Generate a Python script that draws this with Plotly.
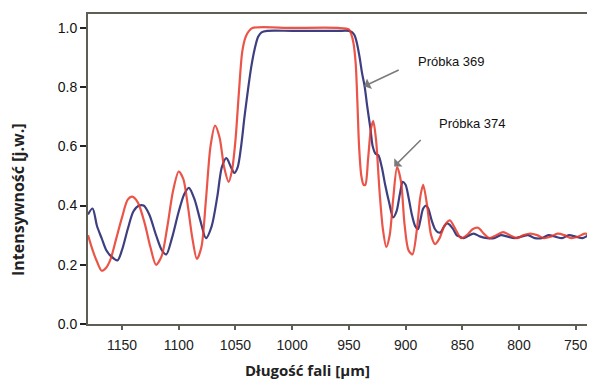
import plotly.graph_objects as go

# Próbka 374 (red) - wavelength, intensity
wl_red = [1180, 1176, 1172, 1168, 1164, 1160, 1155, 1150, 1145, 1141, 1136, 1130, 1125, 1120,
          1115, 1110, 1105, 1100, 1096, 1092, 1088, 1084, 1080, 1076, 1072, 1068, 1064, 1060,
          1056, 1053, 1050, 1047, 1044, 1041, 1038, 1035, 1000, 960, 950, 948, 946, 944, 942.5,
          941, 939, 937, 935.5, 933, 930.5, 928.5, 926, 923, 920, 917, 914, 911, 907.5, 904,
          901, 897.5, 894, 890, 887, 884.5, 881, 877.5, 874, 870, 866, 861, 856, 851, 846, 841,
          836, 831, 826, 820, 814, 808, 802, 796, 790, 784, 778, 772, 766, 760, 754, 748, 742,
          736, 730]
int_red = [0.30, 0.25, 0.21, 0.18, 0.19, 0.22, 0.29, 0.36, 0.42, 0.43, 0.41, 0.34, 0.26, 0.20,
           0.23, 0.33, 0.45, 0.515, 0.49, 0.40, 0.29, 0.22, 0.26, 0.42, 0.60, 0.67, 0.63, 0.53,
           0.48, 0.52, 0.62, 0.78, 0.92, 0.97, 0.99, 1.0, 1.0, 1.0, 0.995, 0.98, 0.95, 0.88, 0.75,
           0.60, 0.50, 0.47, 0.47, 0.56, 0.66, 0.685, 0.62, 0.45, 0.32, 0.26, 0.30, 0.42, 0.53,
           0.48, 0.34, 0.25, 0.235, 0.32, 0.43, 0.47, 0.40, 0.30, 0.27, 0.29, 0.33, 0.35, 0.32,
           0.29, 0.30, 0.32, 0.325, 0.305, 0.29, 0.30, 0.31, 0.30, 0.29, 0.30, 0.305, 0.30, 0.29,
           0.295, 0.305, 0.30, 0.29, 0.295, 0.305, 0.30, 0.295]

# Próbka 369 (blue)
wl_blue = [1180, 1176, 1172, 1168, 1164, 1160, 1154, 1150, 1145, 1140, 1135, 1131, 1126, 1120,
           1115, 1111, 1106, 1100, 1095, 1091, 1086, 1081, 1076, 1071, 1066, 1062, 1058, 1054,
           1051, 1048, 1045, 1042, 1039, 1036, 1033, 1030, 1027, 1022, 1000, 960, 950, 947, 945,
           943, 940.5, 938.5, 936, 934, 931, 929, 926.5, 924, 921, 918, 914.5, 911, 908, 905,
           902.5, 900, 897.5, 894.5, 891.5, 889, 887, 884.5, 882, 880, 877, 874, 871.5, 869,
           866, 863.5, 861, 858, 855, 852, 849, 846, 840, 834, 828, 822, 816, 810, 804, 798, 792,
           786, 780, 774, 768, 762, 756, 750, 744, 738, 732]
int_blue = [0.37, 0.39, 0.33, 0.29, 0.25, 0.23, 0.215, 0.25, 0.32, 0.38, 0.40, 0.40, 0.37, 0.30,
            0.25, 0.235, 0.29, 0.38, 0.44, 0.46, 0.42, 0.35, 0.29, 0.33, 0.43, 0.53, 0.56, 0.53,
            0.51, 0.53, 0.60, 0.70, 0.79, 0.87, 0.93, 0.97, 0.985, 0.99, 0.99, 0.99, 0.99, 0.985,
            0.975, 0.95, 0.90, 0.85, 0.80, 0.74, 0.66, 0.60, 0.575, 0.57, 0.53, 0.47, 0.41, 0.36,
            0.38, 0.44, 0.48, 0.47, 0.43, 0.37, 0.33, 0.32, 0.35, 0.39, 0.40, 0.39, 0.35, 0.32,
            0.31, 0.31, 0.33, 0.34, 0.335, 0.32, 0.30, 0.295, 0.29, 0.295, 0.305, 0.295, 0.29, 0.29,
            0.30, 0.295, 0.29, 0.295, 0.30, 0.29, 0.29, 0.30, 0.295, 0.29, 0.30, 0.295, 0.29,
            0.30, 0.295]

x_ticks = [1150, 1100, 1050, 1000, 950, 900, 850, 800, 750]
y_ticks = [0.0, 0.2, 0.4, 0.6, 0.8, 1.0]

labels = ["Próbka 369", "Próbka 374"]
label_pos = [(890.5, 0.888), (872.0, 0.678)]
arrow_head = [(936.5, 0.803), (910.0, 0.532)]
arrow_tail = [(36, -17), (28, -28)]

fig = go.Figure()
fig.add_trace(go.Scatter(x=wl_blue, y=int_blue, mode="lines",
                         line=dict(color="#3e3f80", width=2.2, shape="spline", smoothing=0.8),
                         name=labels[0], showlegend=False))
fig.add_trace(go.Scatter(x=wl_red, y=int_red, mode="lines",
                         line=dict(color="#e8382a", width=2.2, shape="spline", smoothing=0.8),
                         opacity=0.85, name=labels[1], showlegend=False))

for (lx, ly), txt in zip(label_pos, labels):
    fig.add_annotation(x=lx, y=ly, text=txt, showarrow=False, xanchor="left", yanchor="middle",
                       font=dict(family="Arial", size=13, color="#111"))
for (hx, hy), (ax, ay) in zip(arrow_head, arrow_tail):
    fig.add_annotation(x=hx, y=hy, ax=ax, ay=ay, text="", showarrow=True, arrowhead=1,
                       arrowsize=1.3, arrowwidth=1.5, arrowcolor="#7a7a7a")

fig.add_annotation(xref="paper", yref="paper", x=0.432, y=-0.148, text="<b>Długość fali [µm]</b>",
                   showarrow=False, xanchor="center", yanchor="middle",
                   font=dict(family="Open Sans", size=15, color="#222"))
fig.add_annotation(xref="paper", yref="paper", x=-0.138, y=0.40, text="<b>Intensywność [j.w.]</b>",
                   showarrow=False, xanchor="center", yanchor="middle", textangle=-90,
                   font=dict(family="Open Sans", size=16, color="#222"))

# page body has an 8px default margin, so the figure is 8px smaller than the window
fig.update_layout(
    width=587, height=372,
    margin=dict(l=80, r=0, t=6, b=56, autoexpand=False),
    paper_bgcolor="white", plot_bgcolor="white",
    font=dict(family="Arial", size=14, color="#111"),
    xaxis=dict(range=[1180, 733], tickvals=x_ticks, ticktext=[str(v) for v in x_ticks],
               automargin=False, ticklabelstandoff=3,
               showgrid=False, zeroline=False, showline=True, linecolor="#5e5e55", linewidth=2,
               mirror=True, ticks="outside", ticklen=4, tickcolor="#5e5e55", tickwidth=1.5,
               tickfont=dict(family="Arial", size=14, color="#222")),
    yaxis=dict(range=[0, 1.047], tickvals=y_ticks, ticktext=[f"{v:.1f}" for v in y_ticks],
               automargin=False,
               showgrid=False, zeroline=False, showline=True, linecolor="#5e5e55", linewidth=2,
               ticks="outside", ticklen=6, tickcolor="#222", tickwidth=1.5,
               tickfont=dict(family="Arial", size=14, color="#111")),
)

fig.write_html("out.html")
